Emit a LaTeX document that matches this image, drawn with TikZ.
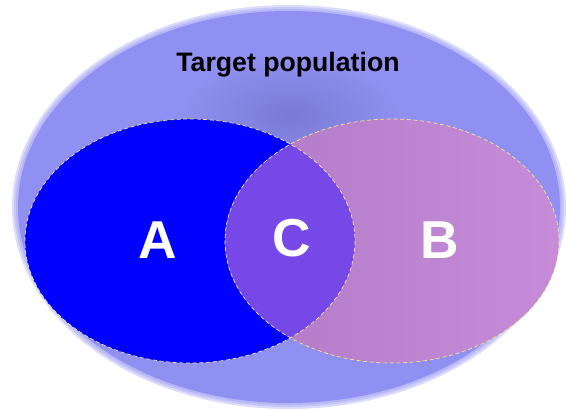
\documentclass[tikz,border=0pt]{standalone}
\usepackage{fontspec}
\setmainfont{Liberation Sans}
\usetikzlibrary{calc}
\definecolor{popfill}{RGB}{144,144,242}
\definecolor{popdark}{RGB}{122,122,212}
\definecolor{setA}{RGB}{0,0,255}
\definecolor{setB}{RGB}{198,140,218}
\definecolor{setBdark}{RGB}{178,122,198}
\definecolor{setC}{RGB}{118,72,232}
\definecolor{rimline}{RGB}{246,236,130}
\tikzset{
    setlabel/.style={text=white, font=\bfseries\fontsize{40}{40}\selectfont},
    poplabel/.style={text=black, font=\bfseries\fontsize{20}{20}\selectfont},
    setrim/.style={draw=rimline, densely dashed, line width=0.5pt}
}

\begin{document}
\begin{tikzpicture}[x=0.75pt, y=-0.75pt]
\useasboundingbox (0,0) rectangle (566,410);
\coordinate (pop) at (289,207);
\coordinate (cA) at (190,241);
\coordinate (cB) at (392,241);
% target population, soft edge
\foreach \r in {6,4,2}
    \fill[popfill, opacity=0.3] (pop) ellipse [x radius=271+\r, y radius=196+\r];
\fill[popfill] (pop) ellipse [x radius=271, y radius=196];
\shade[inner color=popdark, outer color=popfill] (290,115) ellipse [x radius=110, y radius=60];
% sets
\fill[setA] (cA) ellipse [x radius=165, y radius=122];
\shade[left color=setBdark, right color=setB] (cB) ellipse [x radius=167, y radius=122];
\begin{scope}
    \clip (cA) ellipse [x radius=165, y radius=122];
    \fill[setC] (cB) ellipse [x radius=167, y radius=122];
\end{scope}
\draw[setrim] (cA) ellipse [x radius=165, y radius=122];
\draw[setrim] (cB) ellipse [x radius=167, y radius=122];
% labels
\node[poplabel] (target) at (288,65) {Target population};
\node[setlabel] (labA) at (158,240) {A};
\node[setlabel] (labC) at (292,238) {C};
\node[setlabel] (labB) at (440,240) {B};
\end{tikzpicture}
\end{document}
